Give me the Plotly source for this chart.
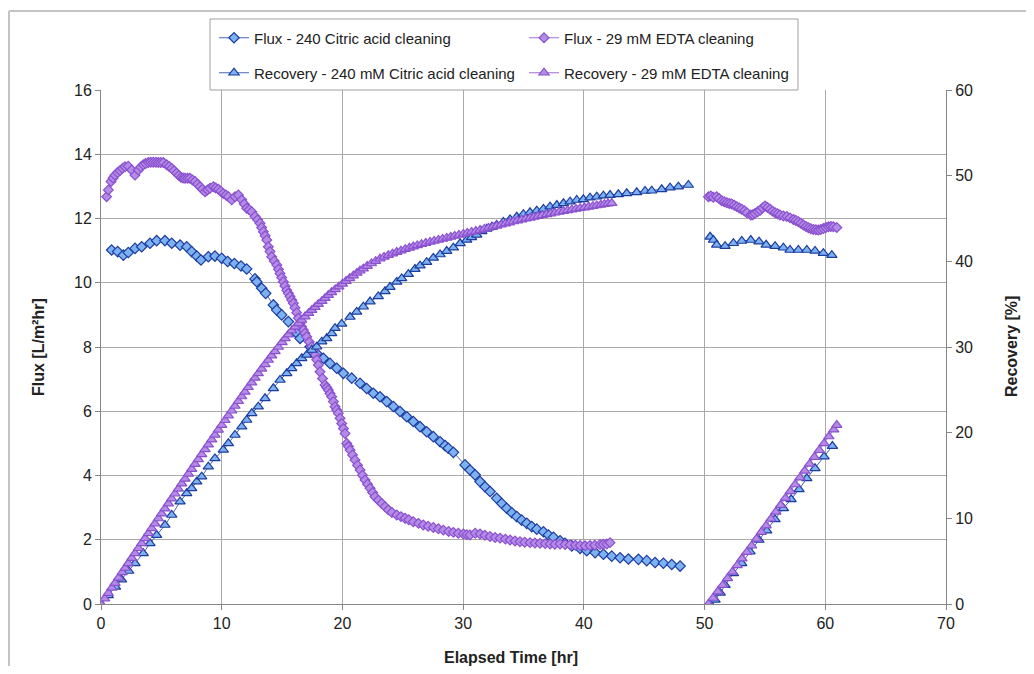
import plotly.graph_objects as go

# ---------------- data ----------------
# Flux - 240 Citric acid cleaning (first run)
citric_flux_t = [0.88, 1.38, 1.85, 2.26, 2.82, 3.37, 4.06, 4.61, 5.30, 5.86, 6.55, 7.10, 7.51, 7.93, 8.28,
                 8.89, 9.44, 10.0, 10.49, 11.05, 11.6, 12.07, 12.76, 12.9, 13.31, 13.64, 14.28, 14.55, 14.97,
                 15.52, 16.21, 16.49, 17.32, 17.87, 18.42, 18.97, 19.53, 20.08, 20.77, 21.46, 22.01, 22.56,
                 23.11, 23.67, 24.22, 24.77, 25.33, 25.87, 26.43, 26.98, 27.53, 28.09, 28.5, 28.77, 29.19,
                 30.16, 30.57, 30.99, 31.4, 31.81, 32.23, 32.78, 33.2, 33.61, 34.03, 34.44, 34.85, 35.27,
                 35.68, 36.1, 36.65, 37.06, 37.48, 38.03, 38.44, 39.0, 39.69, 40.24, 40.93, 41.62, 42.31,
                 43.0, 43.69, 44.52, 45.21, 45.9, 46.59, 47.28, 47.97]
citric_flux_v = [11.02, 10.97, 10.86, 10.94, 11.07, 11.12, 11.23, 11.31, 11.31, 11.23, 11.17, 11.12, 10.97,
                 10.83, 10.71, 10.81, 10.83, 10.76, 10.66, 10.60, 10.52, 10.43, 10.12, 10.03, 9.83, 9.67,
                 9.31, 9.15, 9.0, 8.79, 8.43, 8.27, 8.01, 7.80, 7.65, 7.49, 7.34, 7.18, 7.03, 6.87, 6.71,
                 6.56, 6.45, 6.30, 6.15, 5.99, 5.83, 5.68, 5.52, 5.36, 5.21, 5.05, 4.93, 4.85, 4.72, 4.33,
                 4.17, 4.02, 3.81, 3.65, 3.50, 3.29, 3.13, 2.98, 2.84, 2.72, 2.61, 2.51, 2.41, 2.33, 2.25,
                 2.15, 2.08, 1.97, 1.89, 1.81, 1.73, 1.66, 1.60, 1.55, 1.49, 1.44, 1.40, 1.39, 1.35, 1.29,
                 1.27, 1.23, 1.18]
# Flux - citric acid, second run (after 50 hr)
citric_flux2_t = [50.46, 50.73, 51.0, 51.7, 52.39, 53.08, 53.83, 54.51, 55.1, 55.84, 56.53, 57.08, 57.77,
                  58.47, 59.15, 59.84, 60.54]
citric_flux2_v = [11.43, 11.33, 11.18, 11.14, 11.23, 11.30, 11.33, 11.28, 11.18, 11.14, 11.09, 11.02, 11.02,
                  11.02, 10.99, 10.92, 10.86]

# Flux - 29 mM EDTA cleaning (first run)
edta_flux_t = [0.47, 0.61, 0.83, 1.0, 1.16, 1.37, 1.57, 1.78, 1.99, 2.26, 2.54, 2.82, 3.09, 3.3, 3.5, 3.7,
               3.92, 4.12, 4.33, 4.55, 4.75, 4.95, 5.16, 5.44, 5.65, 5.86, 6.05, 6.27, 6.45, 6.63, 6.8,
               6.96, 7.17, 7.37, 7.58, 7.79, 8.0, 8.2, 8.4, 8.62, 8.82, 9.03, 9.31, 9.5, 9.72, 9.92, 10.13,
               10.35, 10.55, 10.83, 11.1, 11.38, 11.66, 11.87, 12.07, 12.28, 12.49, 12.76, 12.97, 13.17,
               13.31, 13.45, 13.6, 13.73, 13.86, 14.0, 14.14, 14.35, 14.56, 14.7, 14.83, 14.97, 15.1, 15.24,
               15.39, 15.52, 15.66, 15.8, 15.93, 16.07, 16.21, 16.35, 16.49, 16.62, 16.76, 16.9, 17.04,
               17.25, 17.46, 17.6, 17.73, 17.87, 18.0, 18.14, 18.35, 18.56, 18.7, 18.83, 18.97, 19.11,
               19.25, 19.39, 19.52, 19.66, 19.8, 19.94, 20.08, 20.22, 20.36, 20.5, 20.63, 20.84, 21.04,
               21.25, 21.46, 21.66, 21.87, 22.08, 22.29, 22.5, 22.7, 22.98, 23.26, 23.53, 23.8, 24.1, 24.5,
               24.85, 25.19, 25.5, 25.87, 26.3, 26.7, 27.1, 27.53, 27.95, 28.36, 28.8, 29.19, 29.6, 30.02,
               30.3, 30.57, 31.0, 31.4, 31.8, 32.23, 32.65, 33.06, 33.5, 33.89, 34.3, 34.71, 35.1, 35.54,
               35.95, 36.37, 36.8, 37.2, 37.6, 38.03, 38.45, 38.86, 39.3, 39.69, 40.1, 40.51, 40.9, 41.34,
               41.6, 41.9, 42.17]
edta_flux_v = [12.68, 12.89, 13.15, 13.26, 13.35, 13.43, 13.49, 13.56, 13.61, 13.63, 13.51, 13.35, 13.51,
               13.60, 13.67, 13.71, 13.74, 13.75, 13.75, 13.75, 13.74, 13.74, 13.74, 13.67, 13.62, 13.56,
               13.49, 13.41, 13.34, 13.28, 13.26, 13.25, 13.25, 13.25, 13.20, 13.15, 13.07, 12.99, 12.91,
               12.83, 12.89, 12.94, 12.99, 12.95, 12.91, 12.85, 12.78, 12.73, 12.68, 12.58, 12.68, 12.73,
               12.58, 12.45, 12.32, 12.27, 12.21, 12.06, 11.96, 11.85, 11.72, 11.59, 11.46, 11.33, 11.12,
               10.97, 10.81, 10.68, 10.55, 10.42, 10.29, 10.16, 10.03, 9.90, 9.77, 9.67, 9.57, 9.46, 9.36,
               9.22, 9.07, 8.90, 8.74, 8.63, 8.53, 8.43, 8.32, 8.16, 8.01, 7.88, 7.75, 7.60, 7.44, 7.23,
               7.02, 6.82, 6.74, 6.66, 6.55, 6.45, 6.30, 6.14, 6.04, 5.94, 5.78, 5.62, 5.46, 5.31, 5.0, 4.90,
               4.79, 4.64, 4.48, 4.32, 4.17, 4.01, 3.86, 3.73, 3.60, 3.47, 3.34, 3.23, 3.13, 3.03, 2.93,
               2.85, 2.77, 2.72, 2.67, 2.62, 2.56, 2.51, 2.46, 2.42, 2.38, 2.34, 2.30, 2.26, 2.23, 2.20,
               2.18, 2.16, 2.15, 2.20, 2.18, 2.14, 2.10, 2.07, 2.05, 2.02, 1.99, 1.96, 1.94, 1.92, 1.91,
               1.90, 1.89, 1.88, 1.87, 1.86, 1.87, 1.85, 1.84, 1.83, 1.82, 1.81, 1.82, 1.83, 1.85, 1.86,
               1.87, 1.91]
# Flux - EDTA, second run
edta_flux2_t = [50.32, 50.52, 50.73, 51.0, 51.2, 51.42, 51.63, 51.84, 52.05, 52.25, 52.46, 52.67, 52.88,
                53.08, 53.3, 53.5, 53.83, 54.0, 54.18, 54.4, 54.6, 54.8, 55.01, 55.22, 55.43, 55.63, 55.84,
                56.05, 56.25, 56.53, 56.81, 57.08, 57.36, 57.56, 57.77, 57.98, 58.19, 58.4, 58.6, 58.8,
                59.01, 59.22, 59.43, 59.63, 59.84, 60.05, 60.26, 60.46, 60.67, 60.95]
edta_flux2_v = [12.68, 12.70, 12.66, 12.68, 12.62, 12.55, 12.52, 12.49, 12.47, 12.45, 12.41, 12.37, 12.33,
                12.29, 12.24, 12.18, 12.11, 12.12, 12.16, 12.21, 12.26, 12.33, 12.39, 12.34, 12.29, 12.23,
                12.18, 12.15, 12.11, 12.08, 12.06, 12.02, 11.97, 11.94, 11.90, 11.85, 11.80, 11.75, 11.71,
                11.68, 11.66, 11.65, 11.64, 11.66, 11.69, 11.72, 11.74, 11.75, 11.74, 11.72]

# Recovery - 240 mM Citric acid cleaning (first run)
citric_rec_t = [0.0, 0.6, 1.2, 1.7, 2.3, 2.82, 3.5, 4.06, 4.61, 5.3, 5.86, 6.55, 7.1, 7.51, 7.93, 8.34, 8.89,
                9.44, 10.13, 10.55, 11.1, 11.66, 12.07, 12.49, 13.03, 13.59, 14.28, 14.83, 15.39, 15.8,
                16.21, 16.63, 17.04, 17.46, 17.87, 18.29, 18.7, 19.11, 19.39, 19.94, 20.63, 21.18, 21.73,
                22.29, 22.97, 23.53, 23.94, 24.5, 24.91, 25.46, 26.01, 26.43, 26.98, 27.53, 28.09, 28.64,
                29.19, 29.75, 30.3, 30.7, 31.13, 31.55, 31.96, 32.37, 32.78, 33.33, 33.89, 34.44, 34.99,
                35.54, 36.1, 36.65, 37.2, 37.76, 38.31, 38.86, 39.41, 39.96, 40.51, 41.07, 41.62, 42.17,
                42.86, 43.55, 44.38, 45.07, 45.62, 46.45, 47.14, 47.83, 48.66]
citric_rec_v = [0.0, 1.0, 2.0, 2.85, 3.85, 4.75, 5.92, 7.08, 8.05, 9.22, 10.39, 11.94, 12.92, 13.5, 14.28,
                14.86, 16.03, 17.0, 17.98, 18.76, 19.73, 20.7, 21.48, 22.26, 23.03, 24.01, 25.18, 26.15,
                26.93, 27.51, 28.1, 28.68, 29.07, 29.65, 30.03, 30.62, 31.01, 31.6, 32.2, 32.7, 33.5, 34.1,
                34.7, 35.3, 35.9, 36.5, 37.0, 37.6, 38.0, 38.5, 39.1, 39.5, 39.9, 40.4, 40.8, 41.2, 41.6,
                42.1, 42.5, 42.8, 43.1, 43.5, 43.8, 44.0, 44.25, 44.6, 44.9, 45.2, 45.5, 45.72, 45.91,
                46.11, 46.38, 46.57, 46.77, 46.96, 47.16, 47.24, 47.43, 47.54, 47.66, 47.74, 47.82, 47.94,
                48.06, 48.21, 48.24, 48.41, 48.6, 48.71, 48.91]
# Recovery - citric acid, second run
citric_rec2_t = [50.46, 50.87, 51.3, 51.7, 52.39, 53.08, 53.77, 54.51, 55.15, 55.84, 56.53, 57.17, 57.83,
                 58.47, 59.15, 59.9, 60.59]
citric_rec2_v = [0.0, 0.47, 1.3, 2.2, 3.58, 4.75, 6.1, 7.47, 8.56, 9.88, 11.17, 12.22, 13.39, 14.67, 15.84,
                 17.2, 18.44]

# Recovery - 29 mM EDTA cleaning (first run)
edta_rec_t = [0.0, 0.3, 0.6, 0.9, 1.16, 1.45, 1.75, 2.0, 2.26, 2.55, 2.82, 3.1, 3.37, 3.65, 3.92, 4.2, 4.47,
              4.75, 5.02, 5.3, 5.58, 5.85, 6.13, 6.4, 6.69, 6.96, 7.24, 7.51, 7.79, 8.06, 8.34, 8.62, 8.89,
              9.17, 9.44, 9.72, 10.0, 10.28, 10.55, 10.83, 11.1, 11.38, 11.66, 11.93, 12.2, 12.48, 12.76,
              13.03, 13.31, 13.59, 13.86, 14.14, 14.42, 14.7, 15.0, 15.26, 15.52, 15.8, 16.1, 16.37, 16.63,
              16.9, 17.2, 17.46, 17.73, 18.0, 18.3, 18.56, 18.83, 19.1, 19.4, 19.7, 20.0, 20.3, 20.6, 20.9,
              21.2, 21.45, 21.73, 22.05, 22.4, 22.75, 23.11, 23.45, 23.8, 24.15, 24.5, 24.85, 25.2, 25.55,
              25.87, 26.2, 26.55, 26.9, 27.26, 27.6, 27.95, 28.3, 28.64, 28.97, 29.3, 29.65, 30.02, 30.35,
              30.7, 31.05, 31.4, 31.75, 32.1, 32.45, 32.78, 33.15, 33.5, 33.83, 34.16, 34.5, 34.85, 35.2,
              35.54, 35.87, 36.2, 36.55, 36.92, 37.25, 37.6, 37.95, 38.31, 38.65, 39.0, 39.35, 39.69,
              40.05, 40.4, 40.75, 41.07, 41.4, 41.7, 42.0, 42.31]
edta_rec_v = [0.0, 0.63, 1.26, 1.89, 2.44, 3.05, 3.68, 4.2, 4.75, 5.36, 5.92, 6.51, 7.08, 7.67, 8.24, 8.82,
              9.39, 9.98, 10.54, 11.13, 11.72, 12.29, 12.87, 13.44, 14.04, 14.6, 15.18, 15.75, 16.33, 16.89,
              17.46, 18.05, 18.6, 19.18, 19.74, 20.32, 20.88, 21.45, 21.99, 22.56, 23.11, 23.67, 24.22,
              24.76, 25.3, 25.85, 26.39, 26.92, 27.45, 27.97, 28.48, 29.0, 29.5, 30.0, 30.55, 31.0, 31.45,
              31.9, 32.35, 32.75, 33.15, 33.55, 33.95, 34.3, 34.65, 35.0, 35.35, 35.7, 36.05, 36.38, 36.72,
              37.05, 37.38, 37.7, 38.02, 38.33, 38.65, 38.9, 39.15, 39.45, 39.75, 40.02, 40.3, 40.52, 40.72,
              40.9, 41.08, 41.25, 41.42, 41.58, 41.72, 41.86, 42.0, 42.13, 42.26, 42.38, 42.5, 42.62, 42.73,
              42.85, 42.97, 43.09, 43.2, 43.32, 43.43, 43.54, 43.65, 43.78, 43.9, 44.03, 44.15, 44.28,
              44.4, 44.53, 44.65, 44.76, 44.87, 44.98, 45.08, 45.18, 45.28, 45.38, 45.48, 45.58, 45.67,
              45.76, 45.85, 45.94, 46.03, 46.12, 46.2, 46.28, 46.36, 46.44, 46.52, 46.6, 46.67, 46.74,
              46.8, 46.84]
# Recovery - EDTA, second run
edta_rec2_t = [50.32, 50.7, 51.1, 51.5, 51.9, 52.3, 52.7, 53.1, 53.5, 53.9, 54.3, 54.7, 55.1, 55.5, 55.9,
               56.3, 56.7, 57.1, 57.5, 57.9, 58.3, 58.7, 59.1, 59.5, 59.9, 60.3, 60.7, 60.95]
edta_rec2_v = [0.0, 0.7, 1.45, 2.2, 3.0, 3.75, 4.5, 5.3, 6.05, 6.8, 7.6, 8.4, 9.15, 9.95, 10.75, 11.55,
               12.35, 13.15, 13.95, 14.75, 15.55, 16.35, 17.15, 17.95, 18.75, 19.55, 20.35, 20.89]

names = ["Flux - 240 Citric acid cleaning", "Flux - 29 mM EDTA cleaning",
         "Recovery - 240 mM Citric acid cleaning", "Recovery - 29 mM EDTA cleaning"]

x_ticks = [0, 10, 20, 30, 40, 50, 60, 70]
flux_ticks = [0, 2, 4, 6, 8, 10, 12, 14, 16]
rec_ticks = [0, 10, 20, 30, 40, 50, 60]

# ---------------- styling ----------------
FONT = "Liberation Sans, Arial, sans-serif"
BLUE_FILL, BLUE_EDGE, BLUE_LINE = "#7db2f2", "#1d3c9e", "#4a64b5"
PURP_FILL, PURP_EDGE, PURP_LINE = "#b48be6", "#8a50cf", "#9d6fd8"

# The page has an 8 px body margin; figure coordinates are page coordinates minus 8.
OFF = 8
W, H = 1034 - 2 * OFF, 674 - 2 * OFF
PLOT_L, PLOT_R, PLOT_T, PLOT_B = 101 - OFF, 946 - OFF, 90 - OFF, 604 - OFF
L, R, T, B = PLOT_L, W - PLOT_R, PLOT_T, H - PLOT_B
PW, PH = PLOT_R - PLOT_L, PLOT_B - PLOT_T


def px_x(px):  # page px -> paper fraction
    return (px - OFF - PLOT_L) / PW


def px_y(py):
    return (PLOT_B - (py - OFF)) / PH


fig = go.Figure()


def add(t, v, name, fill, edge, line, symbol, size, yaxis, legend, showlegend=True):
    fig.add_trace(go.Scatter(
        x=t, y=v, name=name, mode="lines+markers", yaxis=yaxis,
        line=dict(color=line, width=1),
        marker=dict(symbol=symbol, size=size, color=fill, line=dict(color=edge, width=1.2)),
        legend=legend, showlegend=showlegend, legendgroup=name,
    ))


add(citric_flux_t, citric_flux_v, names[0], BLUE_FILL, BLUE_EDGE, BLUE_LINE, "diamond", 8, "y", "legend")
add(citric_flux2_t, citric_flux2_v, names[0], BLUE_FILL, BLUE_EDGE, BLUE_LINE, "triangle-up", 9, "y", "legend", False)
add(edta_flux_t, edta_flux_v, names[1], PURP_FILL, PURP_EDGE, PURP_LINE, "diamond", 7.5, "y", "legend2")
add(edta_flux2_t, edta_flux2_v, names[1], PURP_FILL, PURP_EDGE, PURP_LINE, "diamond", 7.5, "y", "legend2", False)
add(citric_rec_t, citric_rec_v, names[2], BLUE_FILL, BLUE_EDGE, BLUE_LINE, "triangle-up", 9, "y2", "legend3")
add(citric_rec2_t, citric_rec2_v, names[2], BLUE_FILL, BLUE_EDGE, BLUE_LINE, "triangle-up", 9, "y2", "legend3", False)
add(edta_rec_t, edta_rec_v, names[3], PURP_FILL, PURP_EDGE, PURP_LINE, "triangle-up", 9, "y2", "legend4")
add(edta_rec2_t, edta_rec2_v, names[3], PURP_FILL, PURP_EDGE, PURP_LINE, "triangle-up", 9, "y2", "legend4", False)

AX = "#868686"
GRID = "#a9a9a9"
TXT = "#222222"
tickfont = dict(family=FONT, size=16, color=TXT)

leg_common = dict(orientation="v", bgcolor="rgba(0,0,0,0)", borderwidth=0, xanchor="left", yanchor="middle",
                  font=dict(family=FONT, size=15, color=TXT), itemwidth=30)
col1_x, col2_x = px_x(214), px_x(524)
row1_y, row2_y = px_y(38), px_y(73)

fig.update_layout(
    width=W, height=H,
    margin=dict(l=L, r=R, t=T, b=B, autoexpand=False),
    paper_bgcolor="white", plot_bgcolor="white",
    font=dict(family=FONT, color=TXT),
    xaxis=dict(range=[0, 70], tickvals=x_ticks, showgrid=True, gridcolor=GRID, gridwidth=1,
               showline=True, linecolor=AX, linewidth=1, ticks="outside", ticklen=5, tickcolor=AX,
               tickfont=tickfont, zeroline=False, fixedrange=True),
    yaxis=dict(range=[0, 16], tickvals=flux_ticks, showgrid=True, gridcolor=GRID, gridwidth=1,
               showline=True, linecolor=AX, linewidth=1, ticks="outside", ticklen=5, tickcolor=AX,
               tickfont=tickfont, zeroline=False, fixedrange=True),
    yaxis2=dict(range=[0, 60], tickvals=rec_ticks, overlaying="y", side="right", showgrid=False,
                showline=True, linecolor=AX, linewidth=1, ticks="outside", ticklen=5, tickcolor=AX,
                tickfont=tickfont, zeroline=False, fixedrange=True),
    legend=dict(x=col1_x, y=row1_y, **leg_common),
    legend2=dict(x=col2_x, y=row1_y, **leg_common),
    legend3=dict(x=col1_x, y=row2_y, **leg_common),
    legend4=dict(x=col2_x, y=row2_y, **leg_common),
    showlegend=True,
)

# legend frame and outer chart frame
fig.add_shape(type="rect", xref="paper", yref="paper", x0=px_x(210), x1=px_x(798), y0=px_y(90), y1=px_y(19),
              line=dict(color="#a0a0a0", width=1), fillcolor="rgba(0,0,0,0)", layer="above")
fig.add_shape(type="line", xref="paper", yref="paper", x0=px_x(9), x1=px_x(9), y0=px_y(11), y1=px_y(690),
              line=dict(color="#c4c4c4", width=2))
fig.add_shape(type="line", xref="paper", yref="paper", x0=px_x(9), x1=px_x(1040), y0=px_y(11), y1=px_y(11),
              line=dict(color="#c4c4c4", width=2))

title_font = dict(family=FONT, size=16, color=TXT)
fig.add_annotation(text="<b>Elapsed Time [hr]</b>", xref="paper", yref="paper", x=px_x(511), y=px_y(657),
                   showarrow=False, font=title_font, xanchor="center", yanchor="middle")
fig.add_annotation(text="<b>Flux [L/m²hr]</b>", xref="paper", yref="paper", x=px_x(38), y=px_y(347),
                   showarrow=False, font=title_font, textangle=-90, xanchor="center", yanchor="middle")
fig.add_annotation(text="<b>Recovery [%]</b>", xref="paper", yref="paper", x=px_x(1011), y=px_y(347),
                   showarrow=False, font=title_font, textangle=-90, xanchor="center", yanchor="middle")

fig.write_html("out.html")
